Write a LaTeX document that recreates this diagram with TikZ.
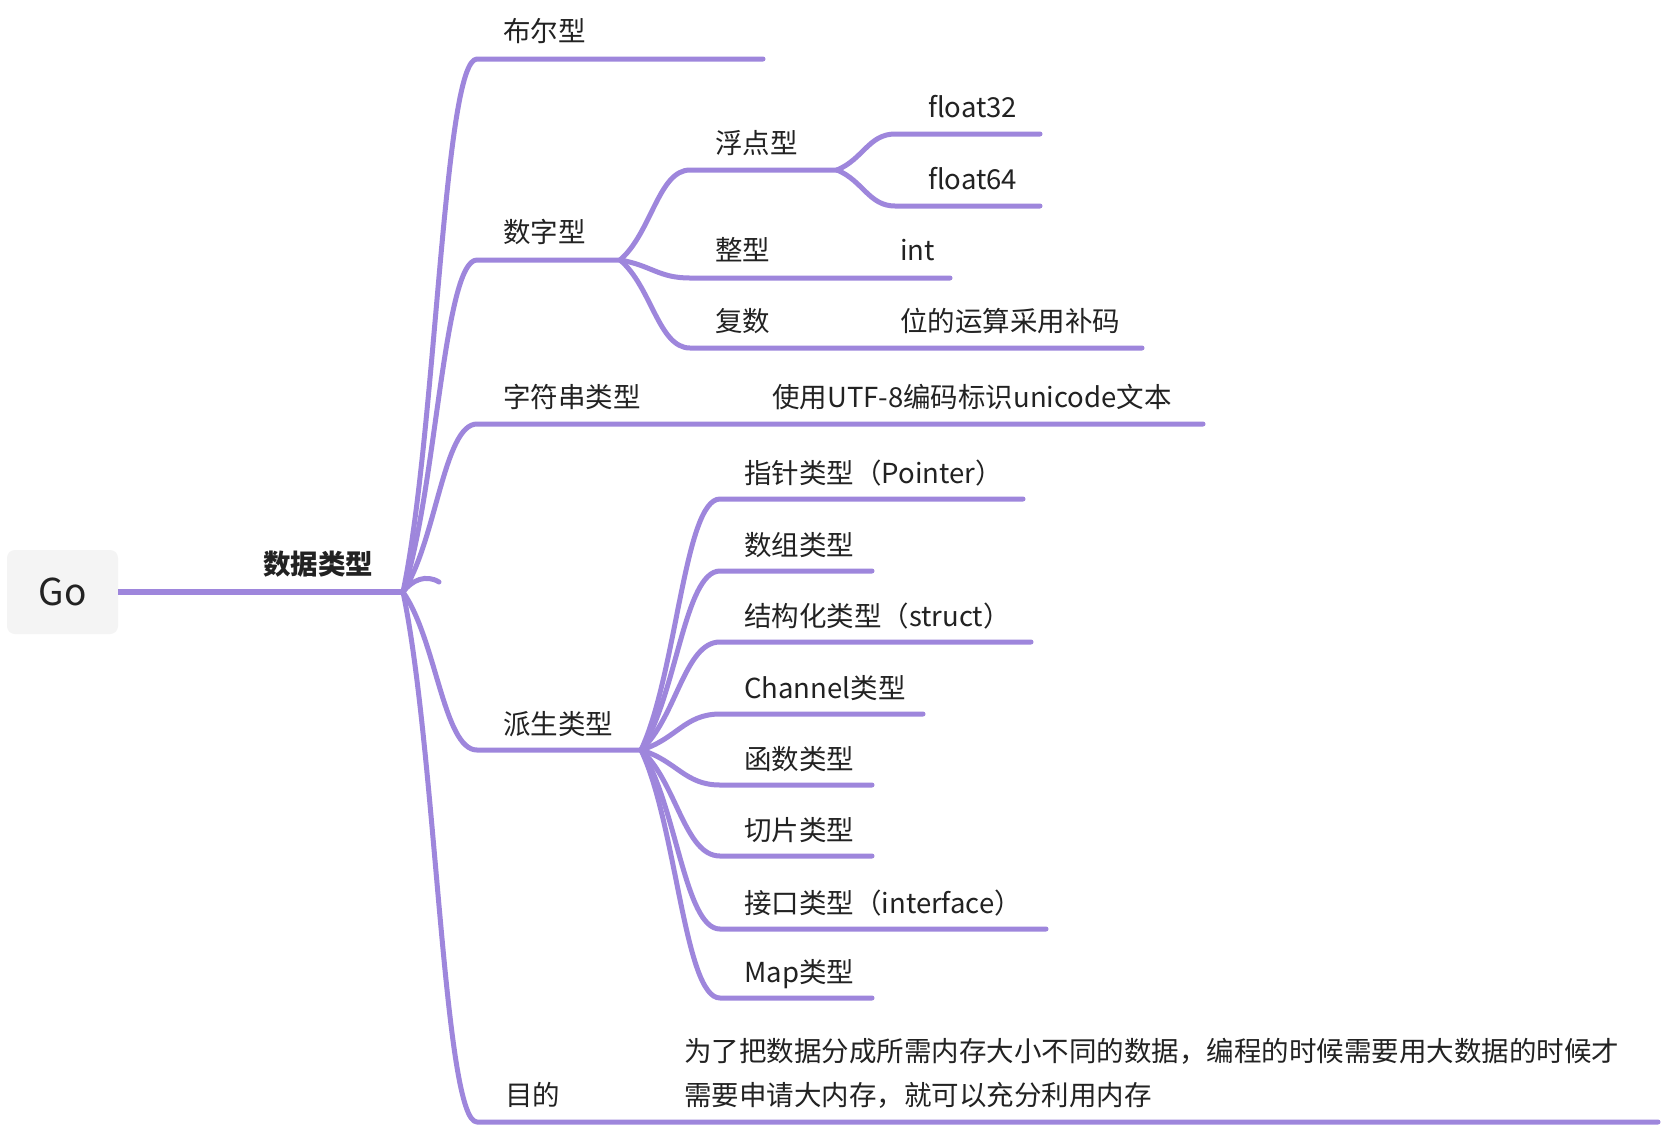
\documentclass[tikz,border=0pt]{standalone}
\usepackage{fontspec}
\setmainfont{Noto Sans CJK SC}
\usetikzlibrary{calc}
\definecolor{lncol}{RGB}{158,134,220}
\definecolor{txtc}{RGB}{34,34,34}
\definecolor{gofill}{RGB}{244,244,244}
\tikzset{
  ln/.style={draw=lncol, line width=5pt, line cap=round, line join=round},
  mainln/.style={draw=lncol, line width=6.5pt, line cap=butt},
  lbl/.style={anchor=west, inner sep=0pt, text=txtc, font=\fontsize{27.5}{32}\selectfont, text height=23pt, text depth=3pt},
  gobox/.style={fill=gofill, rounded corners=8pt, minimum width=111pt, minimum height=84pt, inner sep=0pt, text=txtc, font=\fontsize{37}{44}\selectfont},
}
\newcommand\brcurve[3]{\draw[ln] let \p1=(#1), \p2=(#2) in (\p1) .. controls (\x1*0.55+\x2*0.45, \y1*0.7+\y2*0.3) and (\x2*0.55+\x1*0.45, \y2) .. (\p2) -- (#3);}
\begin{document}
\begin{tikzpicture}[x=1pt,y=-1pt]
\fill[white] (0,0) rectangle (1662,1128);
\useasboundingbox (0,0) rectangle (1662,1128);

% root
\node[gobox] (go) at (62.5,592) {Go};
\coordinate (jn) at (403,592);
\draw[mainln] (go.east) -- (jn);
\node[lbl, font=\fontsize{27.5}{32}\selectfont\bfseries] (dt) at (263,564) {数据类型};

% coordinates of top-level branches
\coordinate (boolS) at (477,59);   \coordinate (boolE) at (763,59);
\coordinate (numS)  at (477,260);  \coordinate (numJ)  at (620,260);
\coordinate (strS)  at (477,424);  \coordinate (strE)  at (1203,424);
\coordinate (derS)  at (477,750);  \coordinate (derJ)  at (641,750);
\coordinate (aimS)  at (477,1122); \coordinate (aimE)  at (1658,1122);

\brcurve{jn}{boolS}{boolE}
\brcurve{jn}{numS}{numJ}
\brcurve{jn}{strS}{strE}
\brcurve{jn}{derS}{derJ}
\brcurve{jn}{aimS}{aimE}
\coordinate (hook) at (439,582);
\draw[ln] (jn) .. controls (412,580) and (426,574) .. (hook);

\node[lbl] (bool) at (503,31.5) {布尔型};
\node[lbl] (num)  at (503,232) {数字型};
\node[lbl] (str)  at (503,397) {字符串类型};
\node[lbl] (utf)  at (772,397) {使用UTF-8编码标识unicode文本};
\node[lbl] (der)  at (503,724) {派生类型};
\node[lbl] (aim)  at (505,1095) {目的};
\node[lbl] (aim1) at (684,1051) {为了把数据分成所需内存大小不同的数据，编程的时候需要用大数据的时候才};
\node[lbl] (aim2) at (684,1095) {需要申请大内存，就可以充分利用内存};

% number branch
\coordinate (fltS) at (690,170); \coordinate (fltJ) at (837,170);
\coordinate (intS) at (690,278); \coordinate (intE) at (950,278);
\coordinate (cpxS) at (690,348); \coordinate (cpxE) at (1142,348);
\brcurve{numJ}{fltS}{fltJ}
\brcurve{numJ}{intS}{intE}
\brcurve{numJ}{cpxS}{cpxE}
\node[lbl] (flt) at (715,143) {浮点型};
\node[lbl] (intg) at (715,250) {整型};
\node[lbl] (intv) at (900,250) {int};
\node[lbl] (cpx) at (715,321) {复数};
\node[lbl] (cpxv) at (900,321) {位的运算采用补码};

% float branch
\coordinate (f32S) at (895,134); \coordinate (f32E) at (1040,134);
\coordinate (f64S) at (895,206); \coordinate (f64E) at (1040,206);
\brcurve{fltJ}{f32S}{f32E}
\brcurve{fltJ}{f64S}{f64E}
\node[lbl] (f32) at (928,107) {float32};
\node[lbl] (f64) at (928,179) {float64};

% derived branch
\foreach \nm/\yy/\xe/\tx in {
  ptr/499/1023/指针类型（Pointer）,
  arr/571/872/数组类型,
  stc/642/1031/结构化类型（struct）,
  chn/714/923/Channel类型,
  fun/785/872/函数类型,
  slc/856/872/切片类型,
  itf/929/1046/接口类型（interface）,
  map/998/872/Map类型}{
  \coordinate (\nm S) at (720,\yy);
  \coordinate (\nm E) at (\xe,\yy);
  \brcurve{derJ}{\nm S}{\nm E}
  \node[lbl] (\nm) at (744,\yy-26) {\tx};
}
\end{tikzpicture}
\end{document}
